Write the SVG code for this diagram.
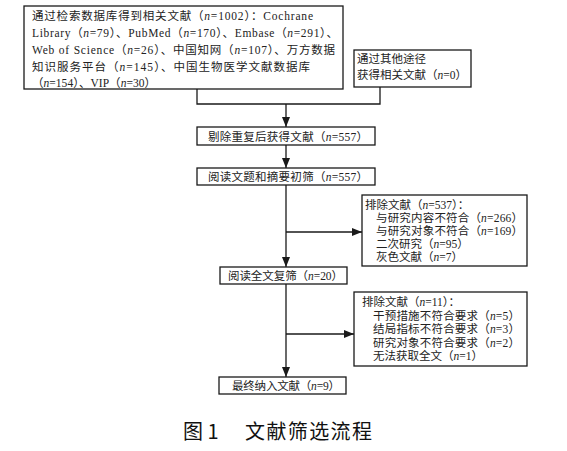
<svg xmlns="http://www.w3.org/2000/svg" width="567" height="451" viewBox="0 0 567 451">
<style>
.box{fill:#fff;stroke:#1a1a1a;stroke-width:1.3}
.t{font-family:"Liberation Serif","Noto Sans CJK SC",serif;font-size:11.5px;fill:#222}
.i{font-style:italic}
.c{stroke:#1a1a1a;stroke-width:1.3;fill:none}
.cap{font-family:"Noto Sans CJK SC","Noto Sans",sans-serif;font-size:20px;font-weight:400;fill:#111}
</style>
<defs>
<marker id="ah" markerUnits="userSpaceOnUse" markerWidth="10" markerHeight="8" refX="10" refY="4" orient="auto">
<path d="M0,0 L10,4 L0,8 z" fill="#1a1a1a"/>
</marker>
</defs>
<rect width="567" height="451" fill="#fff"/>
<g id="connectors">
<polyline class="c" points="197,89 197,104 380,104 380,87"/>
<line class="c" x1="286" y1="104" x2="286" y2="127" marker-end="url(#ah)"/>
<line class="c" x1="286" y1="145" x2="286" y2="168" marker-end="url(#ah)"/>
<line class="c" x1="286" y1="185" x2="286" y2="267" marker-end="url(#ah)"/>
<line class="c" x1="286" y1="232" x2="362" y2="232" marker-end="url(#ah)"/>
<line class="c" x1="286" y1="284" x2="286" y2="377" marker-end="url(#ah)"/>
<line class="c" x1="286" y1="334" x2="354" y2="334" marker-end="url(#ah)"/>
</g>
<g id="n1">
<rect class="box" x="24" y="6" width="319" height="83"/>
<text class="t" x="32" y="19.5" textLength="281">通过检索数据库得到相关文献（<tspan class="i">n</tspan>=1002）：Cochrane</text>
<text class="t" x="32" y="37" textLength="306">Library（<tspan class="i">n</tspan>=79）、PubMed（<tspan class="i">n</tspan>=170）、Embase（<tspan class="i">n</tspan>=291）、</text>
<text class="t" x="32" y="54" textLength="303">Web of Science（<tspan class="i">n</tspan>=26）、中国知网（<tspan class="i">n</tspan>=107）、万方数据</text>
<text class="t" x="32" y="70.5" textLength="278">知识服务平台（<tspan class="i">n</tspan>=145）、中国生物医学文献数据库</text>
<text class="t" x="32" y="86.5" textLength="124">（<tspan class="i">n</tspan>=154）、VIP（<tspan class="i">n</tspan>=30）</text>
</g>
<g id="n2">
<rect class="box" x="354" y="50" width="117" height="37"/>
<text class="t" x="357" y="63">通过其他途径</text>
<text class="t" x="357" y="78.5">获得相关文献（<tspan class="i">n</tspan>=0）</text>
</g>
<g id="n3">
<rect class="box" x="197" y="127" width="178" height="18"/>
<text class="t" x="208" y="140.5" textLength="160">剔除重复后获得文献（<tspan class="i">n</tspan>=557）</text>
</g>
<g id="n4">
<rect class="box" x="197" y="168" width="178" height="17"/>
<text class="t" x="208" y="181" textLength="160">阅读文题和摘要初筛（<tspan class="i">n</tspan>=557）</text>
</g>
<g id="n5">
<rect class="box" x="362" y="195" width="165" height="71"/>
<text class="t" x="365" y="209">排除文献（<tspan class="i">n</tspan>=537）：</text>
<text class="t" x="376" y="222" textLength="147">与研究内容不符合（<tspan class="i">n</tspan>=266）</text>
<text class="t" x="376" y="235" textLength="147">与研究对象不符合（<tspan class="i">n</tspan>=169）</text>
<text class="t" x="376" y="248">二次研究（<tspan class="i">n</tspan>=95）</text>
<text class="t" x="376" y="261">灰色文献（<tspan class="i">n</tspan>=7）</text>
</g>
<g id="n6">
<rect class="box" x="220" y="267" width="127" height="17"/>
<text class="t" x="228" y="280" textLength="115">阅读全文复筛（<tspan class="i">n</tspan>=20）</text>
</g>
<g id="n7">
<rect class="box" x="354" y="292" width="173" height="74"/>
<text class="t" x="362" y="306">排除文献（<tspan class="i">n</tspan>=11）：</text>
<text class="t" x="373" y="319.5" textLength="147">干预措施不符合要求（<tspan class="i">n</tspan>=5）</text>
<text class="t" x="373" y="333" textLength="147">结局指标不符合要求（<tspan class="i">n</tspan>=3）</text>
<text class="t" x="373" y="346.5" textLength="147">研究对象不符合要求（<tspan class="i">n</tspan>=2）</text>
<text class="t" x="373" y="360">无法获取全文（<tspan class="i">n</tspan>=1）</text>
</g>
<g id="n8">
<rect class="box" x="219" y="377" width="127" height="17"/>
<text class="t" x="232" y="390" textLength="108">最终纳入文献（<tspan class="i">n</tspan>=9）</text>
</g>
<g id="caption">
<text class="cap" x="183" y="439">图 1</text>
<text class="cap" x="245" y="439" textLength="127">文献筛选流程</text>
</g>
</svg>
